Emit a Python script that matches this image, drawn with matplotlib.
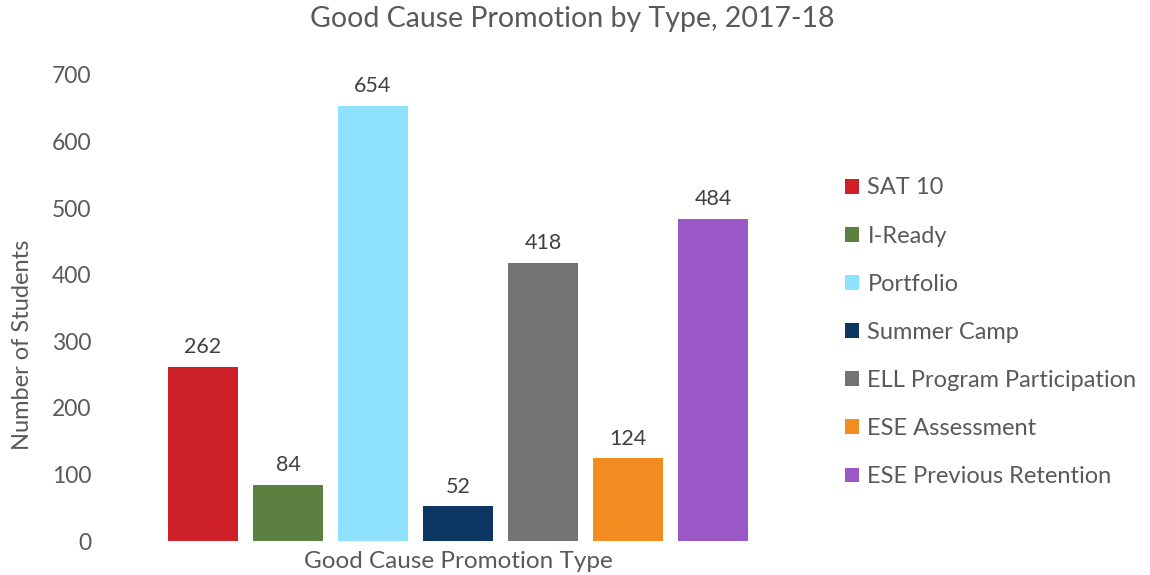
import matplotlib

matplotlib.use("Agg")
import matplotlib.pyplot as plt  # noqa: E402
from matplotlib.patches import Patch  # noqa: E402

CATEGORIES = ["SAT 10", "I-Ready", "Portfolio", "Summer Camp",
              "ELL Program Participation", "ESE Assessment", "ESE Previous Retention"]
STUDENTS = [262, 84, 654, 52, 418, 124, 484]
COLORS = ["#CE2028", "#5B803F", "#8FE3FF", "#0E3662", "#737373", "#F28C20", "#9B57C6"]
YTICKS = [0, 100, 200, 300, 400, 500, 600, 700]

plt.rcParams["font.family"] = ["Lato", "DejaVu Sans"]
TXT = "#595959"

fig = plt.figure(figsize=(11.5, 5.75), dpi=100)
ax = fig.add_axes([0.1, 0.0591, 0.5965, 0.8105])

xs = list(range(len(STUDENTS)))
bars = ax.bar(xs, STUDENTS, width=70 / 85, color=COLORS)
ax.bar_label(bars, labels=[str(v) for v in STUDENTS], padding=7, fontsize=15.5, color="#404040")

ax.set_xlim(-1.035, 7.035)
ax.set_ylim(0, 700)
ax.set_yticks(YTICKS)
ax.set_xticks([])
ax.tick_params(axis="y", length=0, labelsize=16.5, labelcolor=TXT, pad=17)
for s in ax.spines.values():
    s.set_visible(False)

ax.set_ylabel("Number of Students", fontsize=17, color=TXT)
ax.yaxis.set_label_coords(-0.119, 0.42)
ax.set_xlabel("Good Cause Promotion Type", fontsize=17.5, color=TXT, labelpad=7)
fig.suptitle("Good Cause Promotion by Type, 2017-18", x=0.498, y=0.99, fontsize=20.5, color=TXT)

handles = [Patch(facecolor=c, label=l) for c, l in zip(COLORS, CATEGORIES)]
fig.legend(handles=handles, loc="upper left", bbox_to_anchor=(0.7245, 0.712), frameon=False,
           fontsize=17, labelcolor=TXT, handlelength=0.6, handleheight=0.6,
           handletextpad=0.35, labelspacing=1.15, borderpad=0)

fig.savefig("out.png", dpi=100)
